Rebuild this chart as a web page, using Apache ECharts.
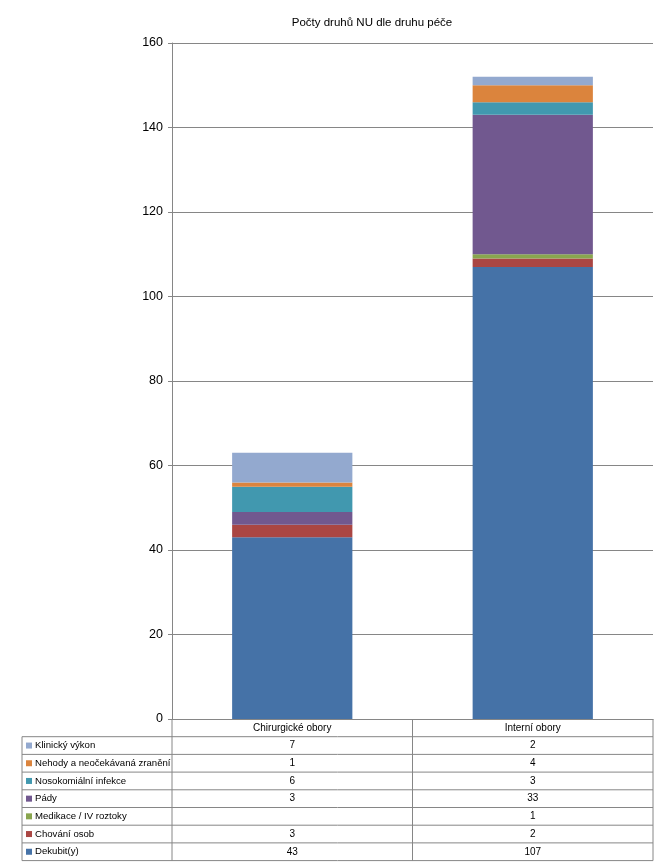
<!DOCTYPE html>
<html>
<head>
<meta charset="utf-8">
<script src="https://cdn.jsdelivr.net/npm/echarts@6/dist/echarts.min.js"></script>
<style>
html, body { margin: 0; padding: 0; background: #fff; }
#chart { width: 667px; height: 866px; }
</style>
</head>
<body>
<div id="chart"></div>
<script>
// data
var categories = ['Chirurgické obory', 'Interní obory'];
var seriesNames = ['Dekubit(y)', 'Chování osob', 'Medikace / IV roztoky', 'Pády',
  'Nosokomiální infekce', 'Nehody a neočekávaná zranění', 'Klinický výkon'];
var dekubity = [43, 107];
var chovaniOsob = [3, 2];
var medikace = [null, 1];
var pady = [3, 33];
var nosokomialni = [6, 3];
var nehody = [1, 4];
var klinickyVykon = [7, 2];
var colors = ['#4572A7', '#AA4643', '#89A54E', '#71588F', '#4198AF', '#DB843D', '#93A9CF'];

var allValues = [dekubity, chovaniOsob, medikace, pady, nosokomialni, nehody, klinickyVykon];
var font = "'Liberation Sans', Arial, sans-serif";
var lineColor = '#868686';

var chart = echarts.init(document.getElementById('chart'));

chart.setOption({
  animation: false,
  color: colors,
  title: {
    text: 'Počty druhů NU dle druhu péče',
    left: 367,
    textAlign: 'center',
    top: 12,
    textStyle: { fontFamily: font, fontSize: 11.5, fontWeight: 'normal', color: '#000' }
  },
  grid: { left: 172, right: 14, top: 43, bottom: 147 },
  xAxis: {
    type: 'category',
    data: categories,
    axisLine: { show: true, lineStyle: { color: lineColor } },
    axisTick: { show: false },
    axisLabel: { show: false }
  },
  yAxis: {
    type: 'value',
    min: 0,
    max: 160,
    interval: 20,
    axisLine: { show: true, lineStyle: { color: lineColor } },
    axisTick: { show: true, length: 4, lineStyle: { color: lineColor } },
    axisLabel: { margin: 9, fontFamily: font, fontSize: 12.5, color: '#000' },
    splitLine: { lineStyle: { color: lineColor } }
  },
  series: seriesNames.map(function (name, i) {
    return {
      name: name,
      type: 'bar',
      stack: 'total',
      barWidth: '50%',
      data: allValues[i],
      itemStyle: { color: colors[i] }
    };
  })
});

// data table below the plot, placed from the axes' own scales
var c0 = chart.convertToPixel({ xAxisIndex: 0 }, 0);
var c1 = chart.convertToPixel({ xAxisIndex: 0 }, 1);
var half = (c1 - c0) / 2;
var colLeft = c0 - half;
var colRight = c1 + half;
var yZero = chart.convertToPixel({ yAxisIndex: 0 }, 0);
var rowH = 17.7;
var tableLeft = 22;
var nRows = seriesNames.length;
var tableBottom = yZero + rowH * (nRows + 1);

var elements = [];
function hline(x1, x2, y) {
  elements.push({ type: 'line', shape: { x1: x1, y1: y, x2: x2, y2: y },
    style: { stroke: lineColor, lineWidth: 1 }, silent: true });
}
function vline(x, y1, y2) {
  elements.push({ type: 'line', shape: { x1: x, y1: y1, x2: x, y2: y2 },
    style: { stroke: lineColor, lineWidth: 1 }, silent: true });
}
function text(str, x, y, align, size) {
  elements.push({ type: 'text', x: x, y: y, silent: true,
    style: { text: str, fill: '#000', font: (size || 10) + 'px ' + font, textAlign: align, textVerticalAlign: 'middle' } });
}

// header row
vline(colLeft, yZero, tableBottom);
vline(c0 + half, yZero, tableBottom);
vline(colRight, yZero, tableBottom);
categories.forEach(function (cat, j) {
  text(cat, c0 + j * (c1 - c0), yZero + rowH / 2, 'center');
});
// legend column + values, top row is the last series
vline(tableLeft, yZero + rowH, tableBottom);
for (var r = 0; r <= nRows; r++) {
  hline(tableLeft, colRight, yZero + rowH * (r + 1));
}
for (var k = 0; k < nRows; k++) {
  var si = nRows - 1 - k;
  var yMid = yZero + rowH * (k + 1) + rowH / 2;
  elements.push({ type: 'rect', silent: true,
    shape: { x: tableLeft + 4, y: yMid - 3, width: 6, height: 6 },
    style: { fill: colors[si] } });
  text(seriesNames[si], tableLeft + 13, yMid, 'left', 9.6);
  allValues[si].forEach(function (v, j) {
    if (v !== null) text(String(v), c0 + j * (c1 - c0), yMid, 'center');
  });
}

chart.setOption({ graphic: { elements: elements } });
</script>
</body>
</html>
